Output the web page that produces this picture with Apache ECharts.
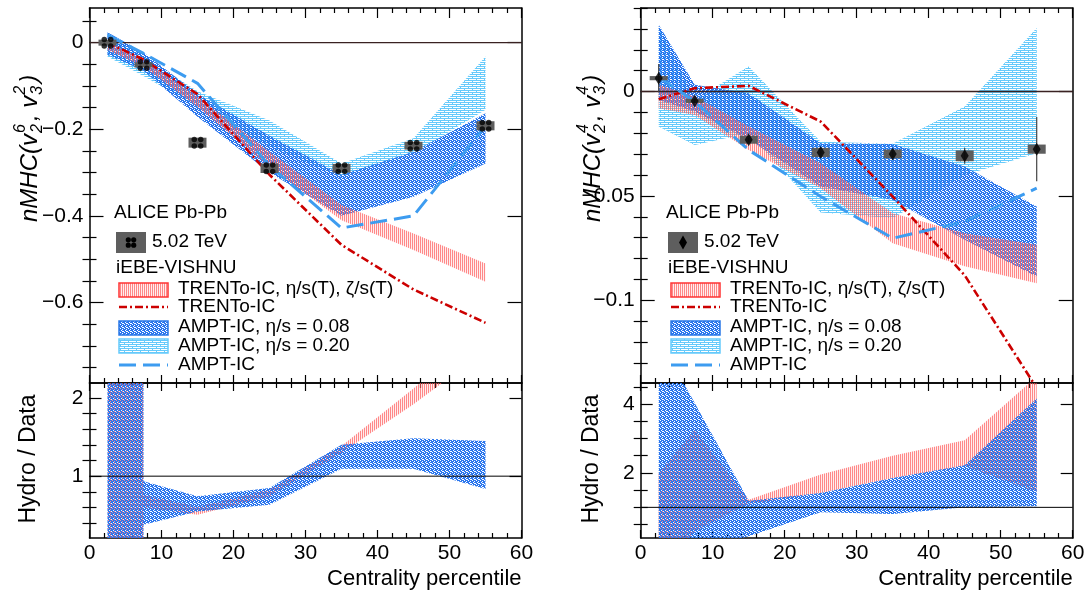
<!DOCTYPE html>
<html><head><meta charset="utf-8">
<script src="https://cdn.jsdelivr.net/npm/echarts@6/dist/echarts.min.js"></script>
<style>html,body{margin:0;padding:0;background:#fff}#c{width:1091px;height:592px}</style>
</head><body><div id="c"></div>
<script>
// ---------- DATA ----------
const cent = [2.5, 7.5, 15, 25, 35, 45, 55];
const xTicks = [0, 10, 20, 30, 40, 50, 60];
// Left: nMHC(v2^6, v3^2)
const L_data = [0.0, -0.0515, -0.231, -0.290, -0.290, -0.238, -0.192];
const L_sys = [0.007, 0.006, 0.0115, 0.011, 0.010, 0.009, 0.0105];
const L_trentoBandHi = [0.002, -0.039, -0.125, -0.252, -0.375, -0.441, -0.510];
const L_trentoBandLo = [-0.017, -0.055, -0.148, -0.287, -0.410, -0.479, -0.552];
const L_trentoLine = [0.0, -0.039, -0.119, -0.305, -0.467, -0.570, -0.647];
const L_ampt08Hi = [0.024, -0.023, -0.118, -0.215, -0.305, -0.252, -0.163];
const L_ampt08Lo = [-0.028, -0.065, -0.171, -0.300, -0.400, -0.356, -0.279];
const L_ampt20Hi = [0.020, -0.032, -0.112, -0.180, -0.279, -0.221, -0.032];
const L_ampt20Lo = [-0.032, -0.077, -0.148, -0.240, -0.310, -0.256, -0.155];
const L_amptLine = [0.018, -0.0246, -0.094, -0.284, -0.428, -0.400, -0.192];
// Left ratio (Hydro / Data)
const L_rTrentoHi = [1000, 0.76, 0.61, 0.83, 1.386, 2.12, 2.9];
const L_rTrentoLo = [-1000, 0.60, 0.506, 0.74, 1.30, 1.92, 2.6];
const L_r08Hi = [1000, 0.936, 0.742, 0.85, 1.40, 1.485, 1.45];
const L_r08Lo = [-1000, 0.378, 0.55, 0.635, 1.094, 1.094, 0.837];
const L_yMajor = [-0.6, -0.4, -0.2, 0];
const L_rMajor = [1, 2];
// Right: nMHC(v2^4, v3^4)
const R_data = [0.0064, -0.0045, -0.0231, -0.0292, -0.0299, -0.0308, -0.0276];
const R_stat = [0.0068, 0.001, 0.001, 0.001, 0.0015, 0.0038, 0.0154];
const R_sys = [0.001, 0.001, 0.0019, 0.0022, 0.0021, 0.0026, 0.0022];
const R_trentoBandHi = [0.0032, -0.0024, -0.0168, -0.0343, -0.0583, -0.0679, -0.0734];
const R_trentoBandLo = [-0.008, -0.0112, -0.028, -0.0463, -0.0727, -0.0837, -0.0918];
const R_trentoLine = [-0.0037, 0.0016, 0.0027, -0.0144, -0.0503, -0.088, -0.142];
const R_ampt08Hi = [0.032, 0.0032, -0.0008, -0.0248, -0.0251, -0.0359, -0.0551];
const R_ampt08Lo = [-0.004, -0.0096, -0.023, -0.0455, -0.052, -0.071, -0.0887];
const R_ampt20Hi = [0.031, -0.004, 0.012, -0.024, -0.025, -0.0072, 0.0304];
const R_ampt20Lo = [-0.0168, -0.0256, -0.020, -0.058, -0.0607, -0.040, -0.0296];
const R_amptLine = [0.0069, -0.0048, -0.028, -0.0503, -0.0703, -0.0623, -0.0463];
// Right ratio
const R_rTrentoHi = [2.0, 3.25, 1.22, 1.95, 2.5, 2.95, 4.8];
const R_rTrentoLo = [-1.0, 0.3, 1.1, 1.42, 1.85, 2.2, 1.45];
const R_r08Hi = [5.92, 4.03, 1.19, 1.42, 1.85, 2.22, 4.16];
const R_r08Lo = [-0.5, -0.24, 0.16, 0.86, 0.81, 1.0, 1.03];
const R_yMajor = [-0.1, -0.05, 0];
const R_rMajor = [2, 4];

// ---------- STYLE ----------
const FONT = '"Liberation Sans", Arial, Helvetica, sans-serif';
function pat(w, h, draw) { const c = document.createElement('canvas'); c.width = w; c.height = h; draw(c.getContext('2d')); return { image: c, repeat: 'repeat' }; }
const redPat = pat(2, 2, g => { g.fillStyle = 'rgba(255,90,90,0.72)'; g.fillRect(0, 0, 1, 2); g.fillStyle = 'rgba(255,170,170,0.2)'; g.fillRect(1, 0, 1, 2); });
const bluePat = pat(4, 4, g => {
  g.fillStyle = '#2a76ee'; g.fillRect(0, 0, 4, 4);
  [[0, 0], [2, 1], [1, 2], [3, 3], [2, 3]].forEach(([x, y]) => g.clearRect(x, y, 1, 1));
});
const lightPat = pat(8, 4, g => { g.fillStyle = '#66cafb'; g.fillRect(0, 0, 8, 1); g.fillRect(0, 1, 1, 1); g.fillRect(0, 2, 8, 1); g.fillRect(4, 3, 1, 1); });
const RED_LINE = '#cc0000', BLUE_DASH = '#3d9cf0';
const clover = 'path://M0.6,4a3.4,3.4 0 1,0 6.8,0a3.4,3.4 0 1,0 -6.8,0ZM8.6,4a3.4,3.4 0 1,0 6.8,0a3.4,3.4 0 1,0 -6.8,0ZM0.6,12a3.4,3.4 0 1,0 6.8,0a3.4,3.4 0 1,0 -6.8,0ZM8.6,12a3.4,3.4 0 1,0 6.8,0a3.4,3.4 0 1,0 -6.8,0Z';
const BOX_HW = 1.25;

const grids = [
  { left: 89.5, top: 8, width: 432, height: 375 },
  { left: 89.5, top: 383, width: 432, height: 155 },
  { left: 640.7, top: 8, width: 432, height: 375 },
  { left: 640.7, top: 383, width: 432, height: 155 }
];
const yRanges = [[-0.786, 0.08], [0.21, 2.19], [-0.1396, 0.040], [0.11, 4.61]];
const yMajors = [L_yMajor, L_rMajor, R_yMajor, R_rMajor];
const yMinorStep = [0.05, 0.2, 0.01, 0.5];
function minors(gi) {
  const [a, b] = yRanges[gi], s = yMinorStep[gi], out = [];
  for (let k = Math.ceil(a / s - 1e-9); k * s <= b + 1e-9; k++) {
    const v = +(k * s).toFixed(4);
    if (!yMajors[gi].some(m => Math.abs(m - v) < 1e-9)) out.push(v);
  }
  return out;
}
const fmt = v => String(+v.toFixed(4)).replace('-', '\u2212');
const tickLS = { color: '#000', width: 1.2 };

const xAxes = [], yAxes = [];
grids.forEach((g, gi) => {
  const isBottom = gi % 2 === 1;
  const isTopPanel = !isBottom;
  [['bottom', isBottom], ['top', false]].forEach(([pos, lab]) => {
    const big = isTopPanel && pos === 'top' ? 10 : 8;
    xAxes.push({
      type: 'value', gridIndex: gi, position: pos, min: 0, max: 60, interval: 10,
      axisLine: { show: true, onZero: false, lineStyle: { color: '#000', width: 1.5 } },
      axisTick: { show: true, inside: true, length: big, lineStyle: tickLS },
      minorTick: { show: true, splitNumber: 5, length: 5, lineStyle: tickLS },
      splitLine: { show: false }, minorSplitLine: { show: false },
      axisLabel: { show: lab, fontSize: 21, fontFamily: FONT, color: '#000', margin: 5, customValues: xTicks }
    });
  });
  ['left', 'right'].forEach(pos => {
    const [mn, mx] = yRanges[gi];
    yAxes.push({
      type: 'value', gridIndex: gi, position: pos, min: mn, max: mx,
      axisLine: { show: true, onZero: false, lineStyle: { color: '#000', width: 1.5 } },
      axisTick: { show: true, inside: true, length: isTopPanel ? 14 : 12, lineStyle: tickLS, customValues: yMajors[gi] },
      splitLine: { show: false },
      axisLabel: { show: pos === 'left', fontSize: 21, fontFamily: FONT, color: '#000', margin: 6, customValues: yMajors[gi], formatter: fmt }
    });
    yAxes.push({
      type: 'value', gridIndex: gi, position: pos, min: mn, max: mx,
      axisLine: { show: false },
      axisTick: { show: true, inside: true, length: 7, lineStyle: tickLS, customValues: minors(gi) },
      splitLine: { show: false }, axisLabel: { show: false }
    });
  });
});

function band(gi, lo, hi, fill, z) {
  return {
    type: 'custom', xAxisIndex: gi * 2, yAxisIndex: gi * 4, z, silent: true,
    data: cent.map((x, i) => [x, lo[i], hi[i]]),
    renderItem(params, api) {
      if (params.dataIndex !== 0) return null;
      const top = cent.map((x, i) => api.coord([x, hi[i]]));
      const bot = cent.map((x, i) => api.coord([x, lo[i]])).reverse();
      const cs = params.coordSys;
      return {
        type: 'polygon', shape: { points: top.concat(bot) }, style: { fill: fill },
        clipPath: { type: 'rect', shape: { x: cs.x, y: cs.y, width: cs.width, height: cs.height } }
      };
    }
  };
}
function line(gi, ys, color, width, dash, z) {
  return {
    type: 'line', xAxisIndex: gi * 2, yAxisIndex: gi * 4, z, silent: true, symbol: 'none', clip: true,
    data: cent.map((x, i) => [x, ys[i]]), lineStyle: { color, width, type: dash }
  };
}
function hline(gi, v, color, width, z) {
  return {
    type: 'line', xAxisIndex: gi * 2, yAxisIndex: gi * 4, z, silent: true, symbol: 'none',
    data: [[0, v], [60, v]], lineStyle: { color, width }
  };
}
function boxes(gi, ys, sys) {
  return {
    type: 'custom', xAxisIndex: gi * 2, yAxisIndex: gi * 4, z: 8, silent: true,
    data: cent.map((x, i) => [x, ys[i], sys[i]]),
    renderItem(params, api) {
      const x = api.value(0), y = api.value(1), e = api.value(2);
      const p1 = api.coord([x - BOX_HW, y + e]), p2 = api.coord([x + BOX_HW, y - e]);
      const h = Math.max(p2[1] - p1[1], 3);
      return { type: 'rect', shape: { x: p1[0], y: (p1[1] + p2[1]) / 2 - h / 2, width: p2[0] - p1[0], height: h }, style: { fill: '#5e5e5e' } };
    }
  };
}
function errbars(gi, ys, st) {
  return {
    type: 'custom', xAxisIndex: gi * 2, yAxisIndex: gi * 4, z: 9, silent: true,
    data: cent.map((x, i) => [x, ys[i], st[i]]),
    renderItem(params, api) {
      const x = api.value(0), y = api.value(1), e = api.value(2);
      const p1 = api.coord([x, y + e]), p2 = api.coord([x, y - e]);
      return { type: 'line', shape: { x1: p1[0], y1: p1[1], x2: p2[0], y2: p2[1] }, style: { stroke: '#444', lineWidth: 1.2 } };
    }
  };
}
function points(gi, ys, symbol, size) {
  return {
    type: 'scatter', xAxisIndex: gi * 2, yAxisIndex: gi * 4, z: 10, silent: true,
    symbol, symbolSize: size, itemStyle: { color: '#000' },
    data: cent.map((x, i) => [x, ys[i]])
  };
}

const series = [
  // left top
  band(0, L_ampt20Lo, L_ampt20Hi, lightPat, 1),
  band(0, L_ampt08Lo, L_ampt08Hi, bluePat, 2),
  band(0, L_trentoBandLo, L_trentoBandHi, redPat, 3),
  hline(0, 0, '#3a2222', 1.3, 5),
  line(0, L_trentoLine, RED_LINE, 2.6, [8, 3, 2, 3], 6),
  line(0, L_amptLine, BLUE_DASH, 3, [17, 7], 6),
  boxes(0, L_data, L_sys),
  points(0, L_data, clover, 12),
  // left ratio
  band(1, L_rTrentoLo, L_rTrentoHi, redPat, 2),
  band(1, L_r08Lo, L_r08Hi, bluePat, 3),
  hline(1, 1, '#000', 1, 5),
  // right top
  band(2, R_ampt20Lo, R_ampt20Hi, lightPat, 1),
  band(2, R_ampt08Lo, R_ampt08Hi, bluePat, 2),
  band(2, R_trentoBandLo, R_trentoBandHi, redPat, 3),
  hline(2, 0, '#3a2222', 1.3, 5),
  line(2, R_trentoLine, RED_LINE, 2.6, [8, 3, 2, 3], 6),
  line(2, R_amptLine, BLUE_DASH, 3, [17, 7], 6),
  boxes(2, R_data, R_sys),
  errbars(2, R_data, R_stat),
  points(2, R_data, 'diamond', [8, 13]),
  // right ratio
  band(3, R_rTrentoLo, R_rTrentoHi, redPat, 2),
  band(3, R_r08Lo, R_r08Hi, bluePat, 3),
  hline(3, 1, '#000', 1, 5)
];

// ---------- TEXT / LEGEND GRAPHICS ----------
const mctx = document.createElement('canvas').getContext('2d');
function tw(t, f) { mctx.font = f; return mctx.measureText(t).width; }
function txt(t, x, y, font, align, valign) {
  return { type: 'text', x, y, z: 100, style: { text: t, font, fill: '#000', textAlign: align || 'left', align: align || 'left', textVerticalAlign: valign || 'middle', verticalAlign: valign || 'middle' } };
}
function vTitle(x, y, parts) {
  const BIG = 'italic 24px ' + FONT, SM = 'italic 16px ' + FONT;
  let pos = 0; const ch = [];
  parts.forEach(p => {
    if (typeof p === 'string') { ch.push(txt(p, pos, 0, BIG)); pos += tw(p, BIG); }
    else { ch.push(txt(p[0], pos + 1, -9, SM)); ch.push(txt(p[1], pos + 1, 8, SM)); pos += Math.max(tw(p[0], SM), tw(p[1], SM)) + 4; }
  });
  return { type: 'group', x, y, rotation: Math.PI / 2, children: ch };
}
function rotText(t, x, y, size) {
  return { type: 'text', x, y, rotation: Math.PI / 2, z: 100, style: { text: t, font: size + 'px ' + FONT, fill: '#000', textAlign: 'center', align: 'center', textVerticalAlign: 'middle', verticalAlign: 'middle' } };
}
const LF = '19px ' + FONT;
function legend(dx, marker) {
  const g = [];
  g.push(txt('ALICE Pb-Pb', 114 + dx, 213, LF));
  g.push({ type: 'rect', z: 100, shape: { x: 116 + dx, y: 232, width: 30, height: 21 }, style: { fill: '#5e5e5e' } });
  if (marker === 'clover') {
    [[-2.7, -2.7], [2.7, -2.7], [-2.7, 2.7], [2.7, 2.7]].forEach(([a, b]) =>
      g.push({ type: 'circle', z: 101, shape: { cx: 131 + dx + a, cy: 242.5 + b, r: 2.6 }, style: { fill: '#000' } }));
  } else {
    g.push({ type: 'polygon', z: 101, shape: { points: [[131 + dx, 235.5], [135 + dx, 242.5], [131 + dx, 249.5], [127 + dx, 242.5]] }, style: { fill: '#000' } });
  }
  g.push(txt('5.02 TeV', 152 + dx, 242, LF));
  g.push(txt('iEBE-VISHNU', 116 + dx, 268, LF));
  const sx = 119 + dx, sw = 49, tx = 178 + dx;
  g.push({ type: 'rect', z: 100, shape: { x: sx, y: 283, width: sw, height: 14 }, style: { fill: redPat, stroke: '#ff3333', lineWidth: 1.5 } });
  g.push(txt('TRENTo-IC, \u03b7/s(T), \u03b6/s(T)', tx, 289, LF));
  g.push({ type: 'line', z: 100, shape: { x1: sx, y1: 307, x2: sx + sw, y2: 307 }, style: { stroke: RED_LINE, lineWidth: 2.6, lineDash: [8, 3, 2, 3] } });
  g.push(txt('TRENTo-IC', tx, 307, LF));
  g.push({ type: 'rect', z: 100, shape: { x: sx, y: 321, width: sw, height: 14 }, style: { fill: bluePat, stroke: '#2a78e8', lineWidth: 1.5 } });
  g.push(txt('AMPT-IC, \u03b7/s = 0.08', tx, 327, LF));
  g.push({ type: 'rect', z: 100, shape: { x: sx, y: 339, width: sw, height: 14 }, style: { fill: lightPat, stroke: '#66cafb', lineWidth: 1.5 } });
  g.push(txt('AMPT-IC, \u03b7/s = 0.20', tx, 346, LF));
  g.push({ type: 'line', z: 100, shape: { x1: sx, y1: 365, x2: sx + sw, y2: 365 }, style: { stroke: BLUE_DASH, lineWidth: 3, lineDash: [17, 7] } });
  g.push(txt('AMPT-IC', tx, 365, LF));
  return g;
}
const graphics = [].concat(
  [vTitle(30, 222, ['nMHC(v', ['6', '2'], ', v', ['2', '3'], ')']),
   vTitle(593, 222, ['nMHC(v', ['4', '2'], ', v', ['4', '3'], ')']),
   rotText('Hydro / Data', 29, 459, 23),
   rotText('Hydro / Data', 592, 459, 23),
   txt('Centrality percentile', 521.5, 579, '22px ' + FONT, 'right'),
   txt('Centrality percentile', 1072.7, 579, '22px ' + FONT, 'right')],
  legend(0, 'clover'), legend(552, 'diamond')
);

const chart = echarts.init(document.getElementById('c'), null, { renderer: 'canvas' });
chart.setOption({
  animation: false, backgroundColor: '#fff',
  grid: grids, xAxis: xAxes, yAxis: yAxes, series, graphic: graphics
});
</script></body></html>
